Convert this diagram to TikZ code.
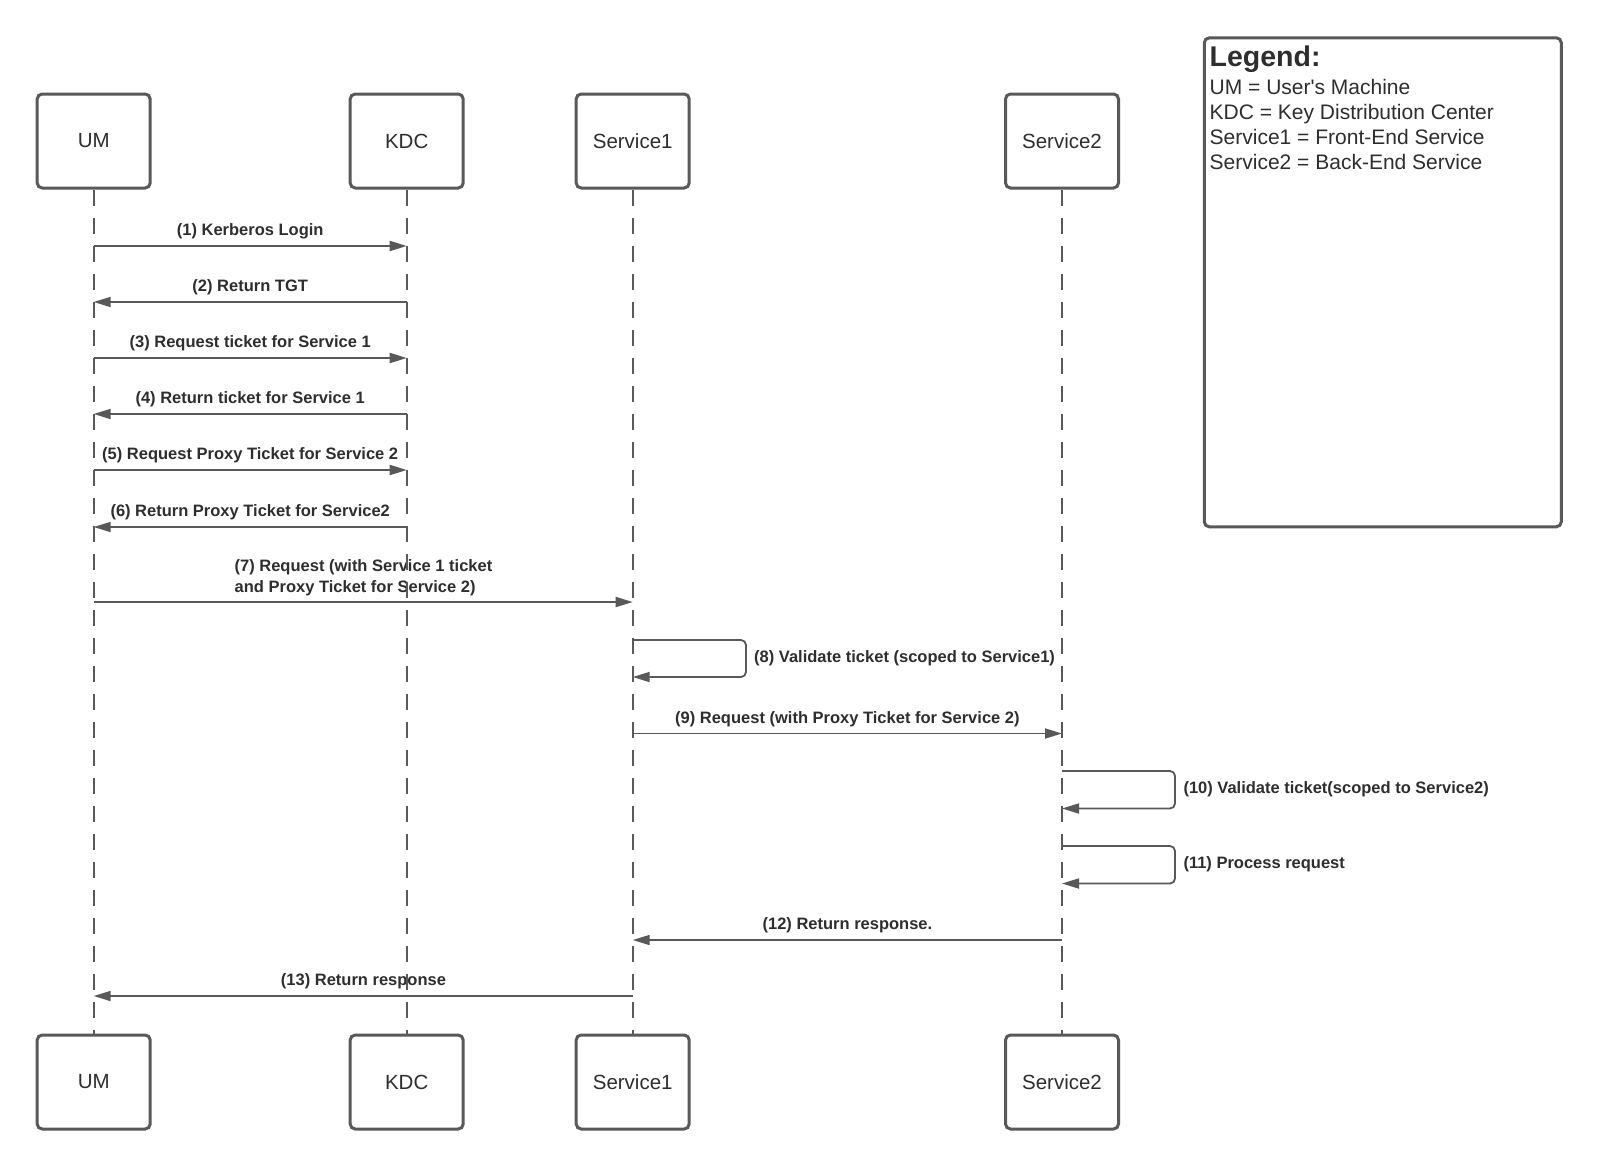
\documentclass[tikz,border=0pt]{standalone}
\usepackage{fontspec}
\setmainfont{Liberation Sans}
\usetikzlibrary{arrows.meta}
\definecolor{ln}{HTML}{595959}
\definecolor{tx}{HTML}{2E2E2E}
\begin{document}
\begin{tikzpicture}[x=1pt,y=-1pt,
  actor/.style={draw=ln, line width=3pt, rounded corners=5pt, minimum width=113pt, minimum height=94pt, inner sep=0pt, text=tx, font=\fontsize{20.5}{24}\selectfont},
  life/.style={draw=ln, line width=1.8pt, dash pattern=on 16pt off 12pt},
  msg/.style={draw=ln, line width=1.8pt, -{Triangle[length=17pt,width=10pt]}},
  loopmsg/.style={msg, rounded corners=5pt},
  lbl/.style={inner sep=0pt, text=tx, font=\fontsize{16.5}{20.5}\selectfont\bfseries},
  legbox/.style={draw=ln, line width=3pt, rounded corners=5pt, minimum width=357pt, minimum height=489pt, inner sep=0pt}]
\useasboundingbox (0,0) rectangle (1600,1167);
\fill[white] (0,0) rectangle (1600,1167);

% actors top
\node[actor] (umT)  at (93.7,141) {UM};
\node[actor] (kdcT) at (406.7,141) {KDC};
\node[actor] (s1T)  at (632.7,141) {Service1};
\node[actor] (s2T)  at (1062,141) {Service2};
% actors bottom
\node[actor] (umB)  at (93.7,1082) {UM};
\node[actor] (kdcB) at (406.7,1082) {KDC};
\node[actor] (s1B)  at (632.7,1082) {Service1};
\node[actor] (s2B)  at (1062,1082) {Service2};

% legend
\node[legbox] (legend) at (1382.8,282.3) {};
\node[anchor=base west, inner sep=0pt, text=tx, font=\fontsize{28.5}{31}\selectfont\bfseries] (legtitle) at (1209.5,66) {Legend:};
\node[anchor=north west, inner sep=0pt, align=left, text=tx, font=\fontsize{21}{25}\selectfont] (legbody) at (1209.5,79) {UM = User\textquotesingle s Machine\\KDC = Key Distribution Center\\Service1 = Front-End Service\\Service2 = Back-End Service};

% message labels
\node[lbl, anchor=base] (l1) at (250.2,235) {(1) Kerberos Login};
\node[lbl, anchor=base] (l2) at (250.2,291) {(2) Return TGT};
\node[lbl, anchor=base] (l3) at (250.2,347) {(3) Request ticket for Service 1};
\node[lbl, anchor=base] (l4) at (250.2,403) {(4) Return ticket for Service 1};
\node[lbl, anchor=base] (l5) at (250.2,459) {(5) Request Proxy Ticket for Service 2};
\node[lbl, anchor=base] (l6) at (250.2,516) {(6) Return Proxy Ticket for Service2};
\node[lbl, anchor=south, align=left] (l7) at (363.5,596) {(7) Request (with Service 1 ticket\\and Proxy Ticket for Service 2)};
\node[lbl, anchor=base west] (l8) at (754,662) {(8) Validate ticket (scoped to Service1)};
\node[lbl, anchor=base] (l9) at (847.4,723) {(9) Request (with Proxy Ticket for Service 2)};
\node[lbl, anchor=base west] (l10) at (1183.3,793.5) {(10) Validate ticket(scoped to Service2)};
\node[lbl, anchor=base west] (l11) at (1183.3,868.5) {(11) Process request};
\node[lbl, anchor=base] (l12) at (847.4,929) {(12) Return response.};
\node[lbl, anchor=base] (l13) at (363.5,985) {(13) Return response};

% lifelines
\draw[life] (umT.south) -- (umB.north);
\draw[life] (kdcT.south) -- (kdcB.north);
\draw[life] (s1T.south) -- (s1B.north);
\draw[life] (s2T.south) -- (s2B.north);

% message end points
\coordinate (u1) at (93.7,246);  \coordinate (k1) at (406.7,246);
\coordinate (u2) at (93.7,302);  \coordinate (k2) at (406.7,302);
\coordinate (u3) at (93.7,358);  \coordinate (k3) at (406.7,358);
\coordinate (u4) at (93.7,414);  \coordinate (k4) at (406.7,414);
\coordinate (u5) at (93.7,470);  \coordinate (k5) at (406.7,470);
\coordinate (u6) at (93.7,527);  \coordinate (k6) at (406.7,527);
\coordinate (u7) at (93.7,602);  \coordinate (a7) at (632.7,602);
\coordinate (a8) at (632.7,640); \coordinate (r8) at (746,640);
\coordinate (q8) at (746,677);   \coordinate (b8) at (632.7,677);
\coordinate (a9) at (632.7,733.5); \coordinate (b9) at (1062,733.5);
\coordinate (a10) at (1062,771); \coordinate (r10) at (1175,771);
\coordinate (q10) at (1175,808.5); \coordinate (b10) at (1062,808.5);
\coordinate (a11) at (1062,846); \coordinate (r11) at (1175,846);
\coordinate (q11) at (1175,883.5); \coordinate (b11) at (1062,883.5);
\coordinate (s12) at (1062,940); \coordinate (e12) at (632.7,940);
\coordinate (s13) at (632.7,996); \coordinate (e13) at (93.7,996);

% messages
\draw[msg] (u1) -- (k1);
\draw[msg] (k2) -- (u2);
\draw[msg] (u3) -- (k3);
\draw[msg] (k4) -- (u4);
\draw[msg] (u5) -- (k5);
\draw[msg] (k6) -- (u6);
\draw[msg] (u7) -- (a7);
\draw[loopmsg] (a8) -- (r8) -- (q8) -- (b8);
\draw[msg] (a9) -- (b9);
\draw[loopmsg] (a10) -- (r10) -- (q10) -- (b10);
\draw[loopmsg] (a11) -- (r11) -- (q11) -- (b11);
\draw[msg] (s12) -- (e12);
\draw[msg] (s13) -- (e13);
\end{tikzpicture}
\end{document}
